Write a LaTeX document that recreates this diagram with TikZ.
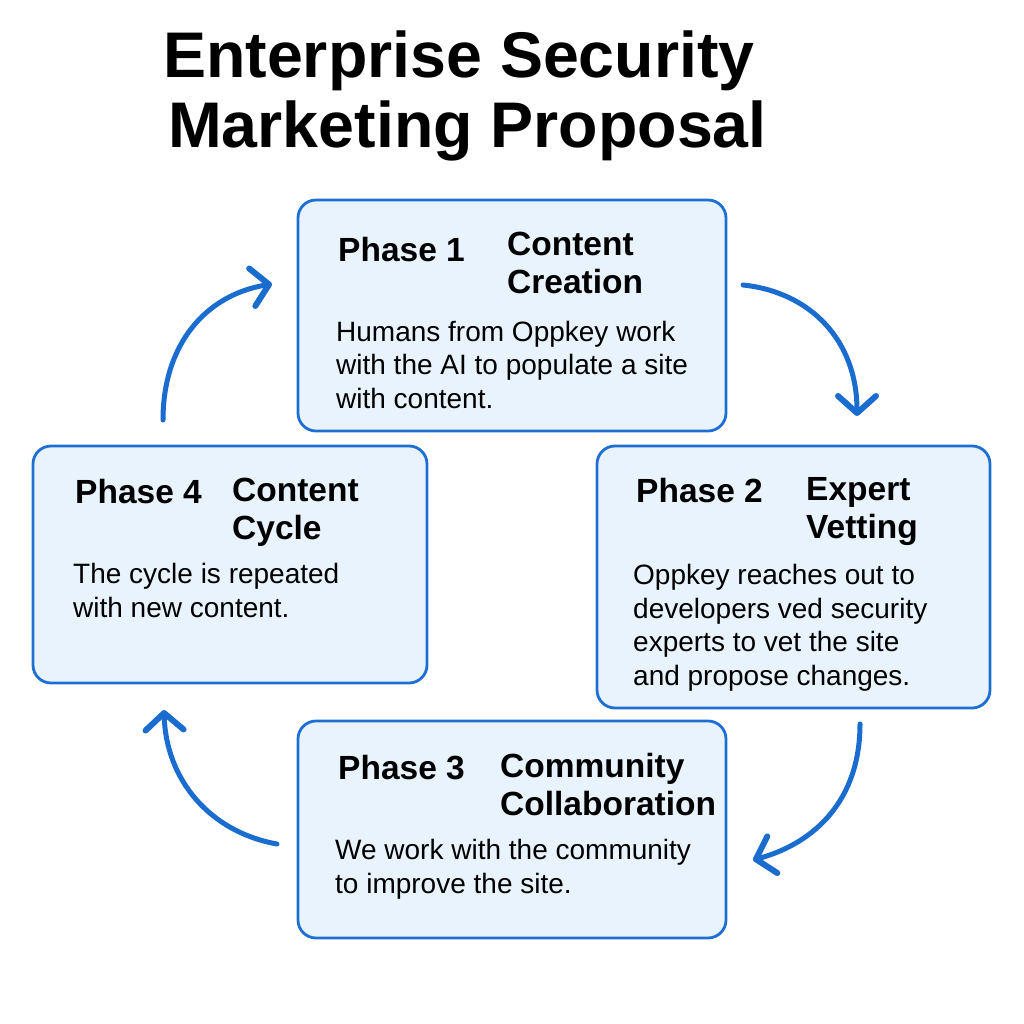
\documentclass[tikz,border=0pt]{standalone}
\usepackage{fontspec}
\setmainfont{Liberation Sans}
\usetikzlibrary{arrows.meta}
\definecolor{boxblue}{HTML}{1E6FD3}
\definecolor{boxfill}{HTML}{E9F3FE}
\definecolor{arrowblue}{HTML}{1A6DCE}
\tikzset{
  phasebox/.style={draw=boxblue, fill=boxfill, line width=2.8pt, rounded corners=18pt},
  phasetitle/.style={anchor=base west, inner sep=0pt, font=\fontsize{33.5}{38}\selectfont\bfseries, align=left},
  phasename/.style={anchor=base west, inner sep=0pt, font=\fontsize{33.5}{38}\selectfont\bfseries, align=left},
  phasebody/.style={anchor=base west, inner sep=0pt, font=\fontsize{28}{33.5}\selectfont, align=left},
  cyclearrow/.style={draw=arrowblue, line width=5pt, line cap=round,
    -{Straight Barb[length=17pt, width=38pt, line width=6pt 0, line cap=round, line join=round]}},
  titletext/.style={anchor=base west, inner sep=0pt, font=\fontsize{64.5}{72}\selectfont\bfseries}
}
\begin{document}
\begin{tikzpicture}[x=1pt, y=-1pt]
\useasboundingbox (0,0) rectangle (1024,1024);
\fill[white] (0,0) rectangle (1024,1024);

% title
\node[titletext] (t1) at (163,78) {Enterprise Security};
\node[titletext] (t2) at (168,148) {Marketing Proposal};

% boxes
\draw[phasebox] (298,200) rectangle (726,431);
\draw[phasebox] (597,446) rectangle (990,708);
\draw[phasebox] (298,721) rectangle (726,938);
\draw[phasebox] (33,446) rectangle (427,683);

% phase 1 (multi-line nodes are placed by their last baseline)
\node[phasetitle] (p1) at (338,261) {Phase 1};
\node[phasename] (n1) at (507,293) {Content\\Creation};
\node[phasebody] (d1) at (336,408) {Humans from Oppkey work\\with the AI to populate a site\\with content.};

% phase 2
\node[phasetitle] (p2) at (636,502) {Phase 2};
\node[phasename] (n2) at (806,538) {Expert\\Vetting};
\node[phasebody] (d2) at (633,685) {Oppkey reaches out to\\developers ved security\\experts to vet the site\\and propose changes.};

% phase 3
\node[phasetitle] (p3) at (338,779) {Phase 3};
\node[phasename] (n3) at (500,815) {Community\\Collaboration};
\node[phasebody] (d3) at (335,893) {We work with the community\\to improve the site.};

% phase 4
\node[phasetitle] (p4) at (75,503) {Phase 4};
\node[phasename] (n4) at (232,539) {Content\\Cycle};
\node[phasebody] (d4) at (73,617) {The cycle is repeated\\with new content.};

% arrows
\coordinate (a1s) at (743,285);
\coordinate (a1e) at (857,416);
\coordinate (a2s) at (860,724);
\coordinate (a2e) at (753,860);
\coordinate (a3s) at (277,844);
\coordinate (a3e) at (164,710);
\coordinate (a4s) at (163,420);
\coordinate (a4e) at (272,284);

\draw[cyclearrow] (a1s) .. controls (810,292) and (857,340) .. (a1e);
\draw[cyclearrow] (a2s) .. controls (860,800) and (815,843) .. (a2e);
\draw[cyclearrow] (a3s) .. controls (210,832) and (166,780) .. (a3e);
\draw[cyclearrow] (a4s) .. controls (163,345) and (205,295) .. (a4e);
\end{tikzpicture}
\end{document}
